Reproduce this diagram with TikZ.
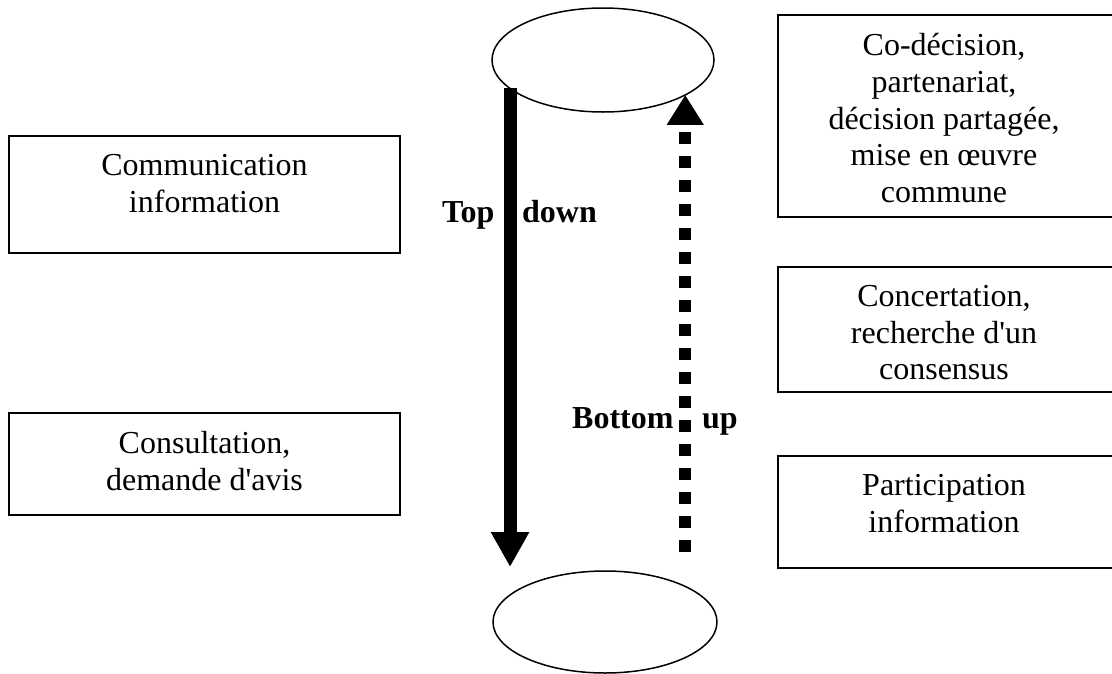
\documentclass[tikz,border=0pt]{standalone}
\usepackage{fontspec}
\setmainfont{Liberation Serif}
\usetikzlibrary{shapes.geometric,arrows.meta,calc}
\begin{document}
\begin{tikzpicture}[x=1pt,y=-1pt,
  box/.style={draw, line width=2pt, inner sep=0pt, outer sep=0pt},
  oval/.style={draw, ellipse, line width=1.5pt, inner sep=0pt, outer sep=0pt},
  txt/.style={align=center, anchor=north, inner sep=0pt, font=\fontsize{32}{36.8}\selectfont},
  lbl/.style={anchor=base west, inner sep=0pt, font=\fontsize{32}{36.8}\selectfont\bfseries}]
\useasboundingbox (0,0) rectangle (1112,673);
\clip (0,0) rectangle (1112,673);
% ellipses
\node[oval, minimum width=222pt, minimum height=104pt] (te) at (603,60) {};
\node[oval, minimum width=224pt, minimum height=102pt] (be) at (605,622) {};
% left boxes
\node[box, minimum width=391pt, minimum height=117pt] (b1) at (204.5,194.5) {};
\node[txt] (t1) at ($(b1.north)+(0,18)$) {Communication\\information};
\node[box, minimum width=391pt, minimum height=102pt] (b2) at (204.5,464) {};
\node[txt] (t2) at ($(b2.north)+(0,18)$) {Consultation,\\demande d\textquotesingle avis};
% right boxes (their right sides run past the picture's edge)
\node[box, minimum width=338pt, minimum height=202pt] (b3) at (947,116) {};
\node[txt] (t3) at ($(b3.north)+(-3,18)$) {Co-décision,\\partenariat,\\décision partagée,\\mise en œuvre\\commune};
\node[box, minimum width=338pt, minimum height=125pt] (b4) at (947,329.5) {};
\node[txt] (t4) at ($(b4.north)+(-3,18)$) {Concertation,\\recherche d\textquotesingle un\\consensus};
\node[box, minimum width=338pt, minimum height=112pt] (b5) at (947,512) {};
\node[txt] (t5) at ($(b5.north)+(-3,18)$) {Participation\\information};
% arrows
\draw[line width=13pt, -{Triangle[width=36pt,length=35pt]}] (te.197) -- ($(te.197 |- be.north)+(0,-4)$);
\draw[line width=12pt, dash pattern=on 12pt off 12pt, -{Triangle[width=35pt,length=30pt]}] ($(te.337 |- be.north)+(0,-19)$) -- (te.337);
% labels
\node[lbl] (ltop) at (442,222) {Top};
\node[lbl] (ldown) at (522,222) {down};
\node[lbl] (lbottom) at (572,428) {Bottom};
\node[lbl] (lup) at (702,428) {up};
\end{tikzpicture}
\end{document}
